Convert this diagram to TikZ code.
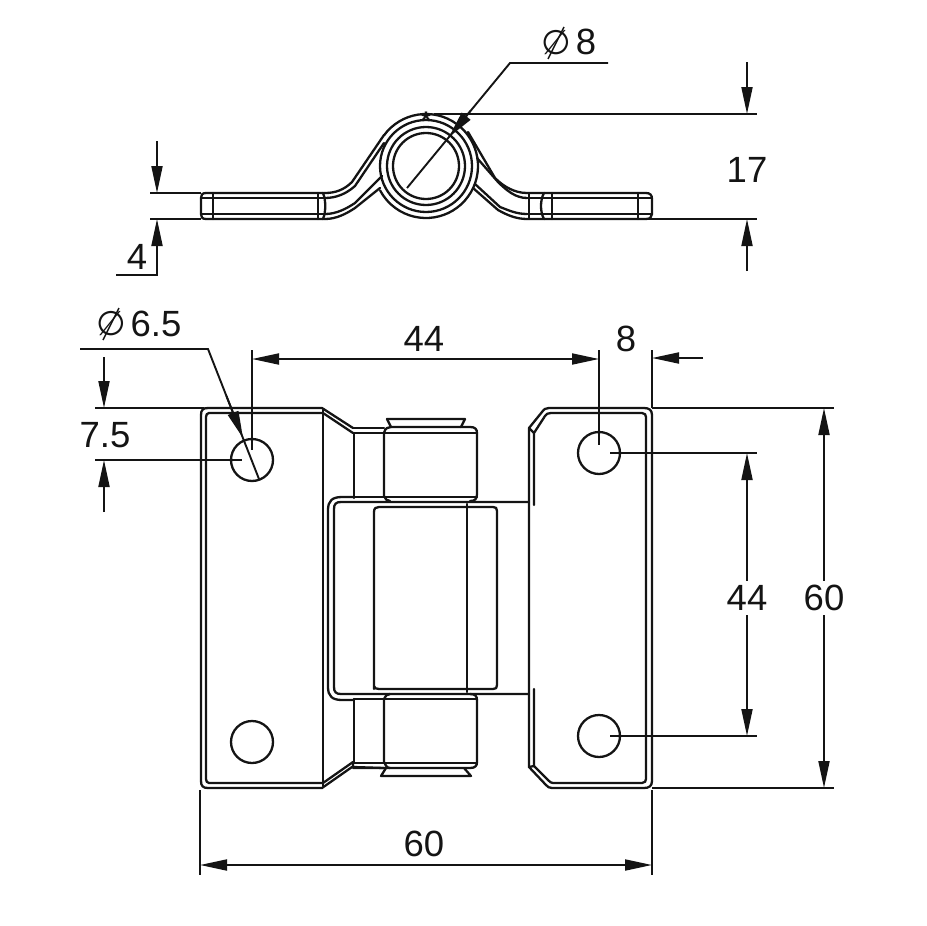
\documentclass[tikz,border=0pt]{standalone}
\usepackage{fontspec}
\setmainfont{Liberation Sans}
\newfontfamily\symfont{DejaVu Sans}
\usetikzlibrary{arrows.meta}
\tikzset{
  obj/.style={line width=2.3pt,line join=round,line cap=round,black!92},
  dim/.style={line width=1.9pt,black!92},
  tip/.style={-{Triangle[length=27pt,width=11pt]}},
  tips/.style={{Triangle[length=27pt,width=11pt]}-{Triangle[length=27pt,width=11pt]}},
  lab/.style={inner sep=0pt,font=\fontsize{36.5}{36.5}\selectfont,text=black!92},
  slash/.style={line width=1.4pt,black!92},
}
\newcommand{\dia}{{\symfont\fontsize{34}{34}\selectfont\char"2205}}
\begin{document}
\begin{tikzpicture}[x=1pt,y=-1pt]
\useasboundingbox (0,0) rectangle (927,926);
% ---------- top view ----------
\begin{scope}[obj]
\draw (426,166) circle[radius=33];
\draw (426,166) circle[radius=39];
\draw (426,166) circle[radius=46];
\draw (426,166) ++(216:52) arc[start angle=216,end angle=512,radius=52];
% left legs
\draw (384,135) -- (352,182) .. controls (344,190) and (335,193) .. (325,193);
\draw (384,143) -- (355,186) .. controls (346,194) and (336,198) .. (325,198);
\draw (382,176) -- (355,203) .. controls (346,209) and (336,214) .. (325,214);
\draw (380,188) -- (355,208) .. controls (346,214) and (336,219) .. (325,219);
% left flat
\draw (325,193) -- (206,193) .. controls (202,193) and (201,195) .. (201,198) -- (201,214) .. controls (201,217) and (202,219) .. (206,219) -- (325,219);
\draw (201,198) -- (325,198);
\draw (201,214) -- (325,214);
\draw (213,193) -- (213,219);
\draw (318,193) -- (318,219);
\draw (323,193) .. controls (326,200) and (326,212) .. (323,219);
% right legs
\draw (468,132) -- (495,178) .. controls (504,187) and (515,193) .. (527,193);
\draw (477,158) -- (498,182) .. controls (507,191) and (516,198) .. (527,198);
\draw (475,184) -- (500,207) .. controls (508,210) and (516,214) .. (527,214);
\draw (473,188) -- (498,210) .. controls (507,215) and (516,219) .. (527,219);
% right flat
\draw (527,193) -- (646,193) .. controls (650,193) and (652,195) .. (652,199) -- (652,214) .. controls (652,217) and (650,219) .. (646,219) -- (527,219);
\draw (527,198) -- (652,198);
\draw (527,214) -- (652,214);
\draw (529,193) -- (529,219);
\draw (552,193) -- (552,219);
\draw (638,193) -- (638,219);
\draw (544,193) .. controls (540,200) and (540,212) .. (544,219);
% ---------- front view, left plate ----------
\draw (353,428) -- (322,408) -- (208,408) .. controls (203,408) and (201,410) .. (201,415) -- (201,781) .. controls (201,786) and (203,788) .. (208,788) -- (322,788) -- (352,767);
\draw (323,413) -- (209,413) .. controls (207,413) and (206,415) .. (206,417) -- (206,779) .. controls (206,781) and (207,783) .. (209,783) -- (323,783);
\draw (323,410) -- (323,786);
\draw (323,413) -- (353,433);
\draw (323,783) -- (353,762);
% upper knuckle
\draw (353,428) -- (384,428);
\draw (384,433) .. controls (385,428) and (388,427) .. (391,427) -- (470,427) .. controls (475,427) and (477,429) .. (477,433) -- (477,494) .. controls (477,499) and (475,501) .. (470,501);
\draw (354,433) -- (477,433);
\draw (354,433) -- (354,498);
\draw (384,433) -- (384,496) .. controls (385,499) and (387,501) .. (390,501);
\draw (354,497) -- (477,497);
\draw (387,419) -- (465,419) -- (461,427);
\draw (387,419) -- (391,427);
% lower knuckle
\draw (353,762) -- (353,767) -- (384,768);
\draw (384,699) .. controls (385,696) and (387,694) .. (390,694);
\draw (477,700) .. controls (477,696) and (475,694) .. (470,694);
\draw (477,700) -- (477,762) .. controls (477,766) and (475,768) .. (470,768) -- (353,768);
\draw (354,699) -- (477,699);
\draw (354,699) -- (354,762);
\draw (384,699) -- (384,762) .. controls (385,765) and (387,768) .. (390,768);
\draw (354,763) -- (477,763);
\draw (386,768) -- (381,776) -- (471,776) -- (464,768);
% middle barrel
\draw (354,497) -- (342,497) .. controls (332,497) and (328,501) .. (328,510) -- (328,687) .. controls (328,696) and (332,700) .. (342,700) -- (354,700);
\draw (529,502) -- (341,502) .. controls (336,502) and (334,504) .. (334,509) -- (334,687) .. controls (334,692) and (336,694) .. (341,694) -- (529,694);
\draw (374,689) -- (374,512) .. controls (374,508) and (376,507) .. (379,507) -- (493,507) .. controls (496,507) and (497,508) .. (497,511) -- (497,685) .. controls (497,688) and (496,689) .. (493,689) -- (379,689) .. controls (376,689) and (374,688) .. (374,686);
\draw (467,504) -- (467,692);
% right plate
\draw (529,502) -- (529,428) -- (542,412) .. controls (544,409) and (546,408) .. (549,408) -- (644,408) .. controls (649,408) and (652,410) .. (652,415) -- (652,781) .. controls (652,786) and (649,788) .. (644,788) -- (552,788) .. controls (549,788) and (548,787) .. (546,785) -- (529,767) -- (529,502);
\draw (534,505) -- (534,433) -- (545,416) .. controls (546,414) and (548,413) .. (551,413) -- (642,413) .. controls (645,413) and (646,415) .. (646,417) -- (646,779) .. controls (646,781) and (645,783) .. (642,783) -- (553,783) .. controls (551,783) and (550,782) .. (548,780) -- (534,766) -- (534,689);
\draw (529,428) -- (534,433);
\draw (529,767) -- (534,766);
% holes
\draw[fill=white] (252,460) circle[radius=21];
\draw[fill=white] (252,742) circle[radius=21];
\draw[fill=white] (599,453) circle[radius=21];
\draw[fill=white] (599,736) circle[radius=21];
\end{scope}
% ---------- dimensions: top view ----------
\begin{scope}[dim]
\node[inner sep=0pt,font=\bfseries\fontsize{24}{24}\selectfont] (star) at (426,120) {*};
\draw (608,63) -- (510,63) -- (407,188);
\draw[tip] (470.4,111) -- (449,137);
\draw (434,114) -- (757,114);
\draw (527,219) -- (757,219);
\draw[tip] (747,62) -- (747,114);
\draw[tip] (747,271) -- (747,219);
\draw (150,193) -- (201,193);
\draw (150,219) -- (201,219);
\draw[tip] (157,141) -- (157,193);
\draw[tip] (116,275) -- (157,275) -- (157,219);
% ---------- dimensions: front view ----------
\draw (80,349) -- (208,349) -- (259,479);
\draw[tip] (226.4,396) -- (243,438);
\draw (252,350) -- (252,450);
\draw (599,350) -- (599,445);
\draw (652,350) -- (652,408);
\draw[tips] (252,359) -- (599,359);
\draw[tip] (703,358) -- (652,358);
\draw (95,408) -- (204,408);
\draw (95,460) -- (242,460);
\draw[tip] (104,357) -- (104,408);
\draw[tip] (104,512) -- (104,460);
\draw (610,453) -- (757,453);
\draw (610,736) -- (757,736);
\draw[tips] (747,453) -- (747,736);
\draw (652,408) -- (834,408);
\draw (652,788) -- (834,788);
\draw[tips] (824,408) -- (824,788);
\draw (200,790) -- (200,875);
\draw (652,790) -- (652,875);
\draw[tips] (200,865) -- (652,865);
\end{scope}
% ---------- labels ----------
\node[lab] (d8) at (556,43) {\dia};
\draw[slash] (d8.center) ++(8,-16) -- ++(-16,32);
\node[lab] (t8) at (586,42) {8};
\node[lab] (t17) at (747,170) {17};
\node[lab] (t4) at (137,257) {4};
\node[lab] (d65) at (111,324) {\dia};
\draw[slash] (d65.center) ++(8,-16) -- ++(-16,32);
\node[lab] (t65) at (156,324) {6.5};
\node[lab] (t44a) at (424,339) {44};
\node[lab] (t8b) at (626,339) {8};
\node[lab] (t75) at (105,435) {7.5};
\node[lab,fill=white,inner sep=4pt] (t44b) at (747,598) {44};
\node[lab,fill=white,inner sep=4pt] (t60a) at (824,598) {60};
\node[lab] (t60b) at (424,844) {60};
\end{tikzpicture}
\end{document}
